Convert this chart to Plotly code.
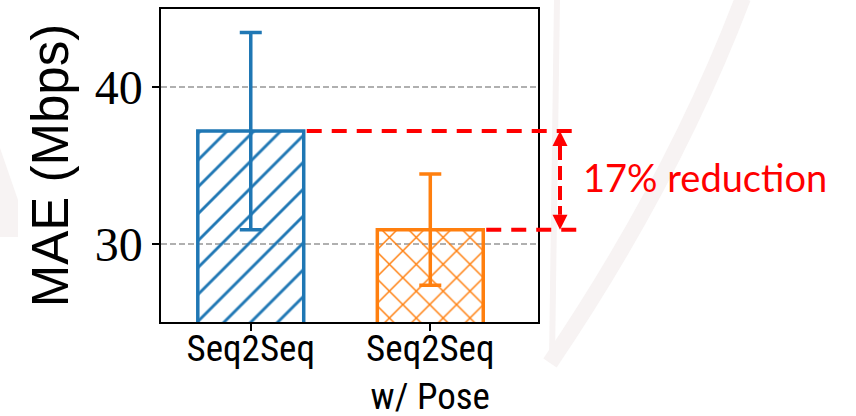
import plotly.graph_objects as go

# ---------------- data ----------------
categories = ["Seq2Seq", "Seq2Seq<br>w/ Pose"]
mae_mean = [37.2, 30.9]
mae_err = [6.3, 3.55]
bar_colors = ["#1f77b4", "#ff7f0e"]
hatch_shapes = ["/", "x"]
y_ticks = [30, 40]
y_range = [25, 45]
x_range = [-0.5, 1.6]
bar_width = 0.59

# ---------------- geometry helpers ----------------
W, H = 856, 416
L, R, T, B = 161, 318, 9, 94
PW, PH = W - L - R, H - T - B


def px_x(px):
    return (px - L) / PW


def px_y(py):
    return (H - B - py) / PH


def dx(v):
    return (v - x_range[0]) / (x_range[1] - x_range[0])


def dy(v):
    return (v - y_range[0]) / (y_range[1] - y_range[0])


fig = go.Figure()
for i, cat in enumerate(categories):
    fig.add_trace(go.Bar(
        x=[cat], y=[mae_mean[i]], width=bar_width,
        marker=dict(
            color="rgba(0,0,0,0)",
            line=dict(color=bar_colors[i], width=3.5),
            pattern=dict(shape=hatch_shapes[i], fgcolor=bar_colors[i], fgopacity=1,
                         bgcolor="rgba(0,0,0,0)", size=19, solidity=0.15,
                         fillmode="overlay"),
        ),
        error_y=dict(type="data", array=[mae_err[i]], color=bar_colors[i],
                     thickness=3.5, width=11),
        showlegend=False,
    ))

shapes = []
# faint background watermark (outside plot area)
wm = "#f7f3f3"
shapes.append(dict(type="path", xref="paper", yref="paper", layer="below",
                   path=f"M {px_x(743)},{px_y(-2)} Q {px_x(673.5)},{px_y(180.5)} {px_x(550)},{px_y(363)}",
                   line=dict(color=wm, width=16)))
shapes.append(dict(type="path", xref="paper", yref="paper", layer="below",
                   path=f"M {px_x(557)},{px_y(-2)} L {px_x(552)},{px_y(360)}",
                   line=dict(color=wm, width=6)))
shapes.append(dict(type="path", xref="paper", yref="paper", layer="below",
                   path=f"M {px_x(0)},{px_y(148)} L {px_x(18)},{px_y(200)} L {px_x(18)},{px_y(237)} L {px_x(0)},{px_y(237)} Z",
                   line=dict(width=0), fillcolor=wm))

red = "#ff0000"
dash = "15px,10px"
y_top = dy(mae_mean[0])
y_bot = dy(mae_mean[1])
# horizontal reference lines
shapes.append(dict(type="line", xref="paper", yref="paper",
                   x0=dx(0 + bar_width / 2) + 3 / PW, x1=px_x(576), y0=y_top, y1=y_top,
                   line=dict(color=red, width=4, dash=dash)))
shapes.append(dict(type="line", xref="paper", yref="paper",
                   x0=dx(1 + bar_width / 2) + 3 / PW, x1=px_x(579), y0=y_bot, y1=y_bot,
                   line=dict(color=red, width=4, dash=dash)))
# vertical double arrow
ax = px_x(560)
head_h = 15 / PH
head_w = 7.5 / PW
shapes.append(dict(type="line", xref="paper", yref="paper",
                   x0=ax, x1=ax, y0=y_top - head_h, y1=y_bot + head_h,
                   line=dict(color=red, width=4, dash="14px,6px")))
shapes.append(dict(type="path", xref="paper", yref="paper",
                   path=f"M {ax},{y_top} L {ax - head_w},{y_top - head_h} L {ax + head_w},{y_top - head_h} Z",
                   fillcolor=red, line=dict(width=0)))
shapes.append(dict(type="path", xref="paper", yref="paper",
                   path=f"M {ax},{y_bot} L {ax - head_w},{y_bot + head_h} L {ax + head_w},{y_bot + head_h} Z",
                   fillcolor=red, line=dict(width=0)))

reduction = round((mae_mean[0] - mae_mean[1]) / mae_mean[0] * 100)

fig.update_layout(
    width=W, height=H,
    margin=dict(l=L, r=R, t=T, b=B, pad=0),
    paper_bgcolor="white", plot_bgcolor="white",
    barmode="overlay",
    shapes=shapes,
    annotations=[dict(
        xref="paper", yref="paper", x=px_x(581), y=(y_top + y_bot) / 2 + 3 / PH,
        xanchor="left", yanchor="middle", showarrow=False,
        text=f"{reduction}% reduction",
        font=dict(family="Lato, Open Sans, sans-serif", size=38, color=red),
    )],
    xaxis=dict(
        type="category", range=x_range, automargin=False,
        tickvals=categories, ticktext=categories, ticklabelstandoff=-14,
        showline=True, mirror=True, linecolor="black", linewidth=1.5,
        ticks="outside", ticklen=7, tickwidth=1.5, tickcolor="black",
        showgrid=False, zeroline=False,
        tickfont=dict(family="Liberation Sans Narrow, Roboto Condensed, Liberation Sans", size=37, color="black"),
    ),
    yaxis=dict(
        range=y_range, tickvals=y_ticks, automargin=False,
        showline=True, mirror=True, linecolor="black", linewidth=1.5,
        ticks="outside", ticklen=7, tickwidth=1.5, tickcolor="black",
        showgrid=True, gridcolor="#b0b0b0", gridwidth=1.5, griddash="6px,3px",
        zeroline=False,
        tickfont=dict(family="Liberation Serif, serif", size=48, color="black"),
        title=dict(text="MAE (Mbps)", standoff=10,
                   font=dict(family="Liberation Sans, Arial, sans-serif", size=51, color="black")),
    ),
)

fig.write_html("out.html")
